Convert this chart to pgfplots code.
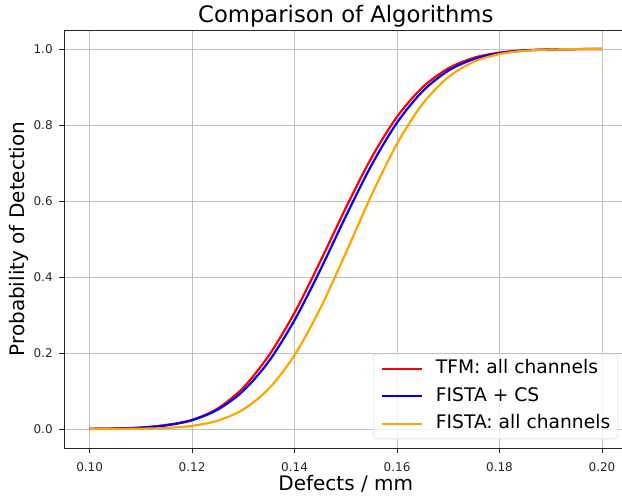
\documentclass[border=0pt]{standalone}
\usepackage{pgfplots}
\pgfplotsset{compat=1.18}
\usepackage{fontspec}
\setmainfont{DejaVu Sans}
\definecolor{mplorange}{RGB}{255,165,0}
\definecolor{tickgray}{RGB}{38,38,38}
\pgfplotsset{
  mylegimg/.style={legend image code/.code={\draw[#1, line width=2pt, draw opacity=1] (0pt,0pt) -- (40pt,0pt);}},
}
\begin{document}
\begin{tikzpicture}[x=1pt,y=1pt]
\path[use as bounding box] (-64,-48) rectangle (558,448);
\begin{axis}[
  at={(0,0)}, anchor=south west,
  scale only axis, width=563.6pt, height=418pt,
  xmin=0.095, xmax=0.205, ymin=-0.05, ymax=1.05,
  xtick={0.10,0.12,0.14,0.16,0.18,0.20},
  ytick={0,0.2,0.4,0.6,0.8,1.0},
  /pgf/number format/assume math mode=true,
  xticklabel style={/pgf/number format/fixed, /pgf/number format/fixed zerofill, /pgf/number format/precision=2,
    anchor=base, yshift=-19pt, inner sep=0pt},
  yticklabel style={/pgf/number format/fixed, /pgf/number format/fixed zerofill, /pgf/number format/precision=1,
    anchor=east, xshift=-3pt},
  ticklabel style={font=\fontsize{12}{14}\selectfont, text=tickgray},
  tick pos=left, tick align=outside, major tick length=4.8pt,
  tick style={line width=0.8pt, tickgray},
  axis line style={line width=0.8pt, tickgray},
  grid=major, grid style={line width=0.8pt, color=black!25},
  title={Comparison of Algorithms},
  title style={font=\fontsize{22.7}{26}\selectfont, at={(0.5,1)}, anchor=base, yshift=1pt, inner sep=0pt},
  xlabel={Defects / mm}, ylabel={Probability of Detection},
  xlabel style={font=\fontsize{20}{22}\selectfont, at={(0.5,0)}, anchor=base, yshift=-42pt, inner sep=0pt},
  ylabel style={font=\fontsize{20}{22}\selectfont, at={(0,0.5)}, rotate=0, anchor=base, yshift=39pt, inner sep=0pt},
  mylegimg,
  legend style={at={(0.9829,0.0215)}, anchor=south east, font=\fontsize{18.7}{22}\selectfont,
    draw=black!20, rounded corners=3pt, fill=white, fill opacity=0.8, text opacity=1, draw opacity=1,
    inner xsep=7.5pt, inner ysep=6pt, row sep=10pt,
    nodes={inner sep=0pt, text height=13.6pt, text depth=4pt, anchor=west},
    /tikz/every odd column/.append style={column sep=12.7pt}},
  legend cell align=left,
  every axis plot/.append style={line width=2.2pt, smooth},
]
\addplot[red] coordinates {
(0.100,0.0004) (0.105,0.0013) (0.110,0.0040) (0.115,0.0109) (0.120,0.0240)
(0.125,0.0540) (0.130,0.1090) (0.135,0.1938) (0.140,0.3061) (0.145,0.4404)
(0.150,0.5820) (0.155,0.7136) (0.160,0.8216) (0.165,0.8995) (0.170,0.9491)
(0.175,0.9769) (0.180,0.9906) (0.185,0.9966) (0.190,0.9989) (0.195,0.9997) (0.200,0.9999)};
\addlegendentry{TFM: all channels}
\addplot[blue] coordinates {
(0.100,0.0003) (0.105,0.0011) (0.110,0.0034) (0.115,0.0094) (0.120,0.0231)
(0.125,0.0509) (0.130,0.1005) (0.135,0.1784) (0.140,0.2864) (0.145,0.4180)
(0.150,0.5596) (0.155,0.6939) (0.160,0.8062) (0.165,0.8890) (0.170,0.9428)
(0.175,0.9736) (0.180,0.9891) (0.185,0.9960) (0.190,0.9987) (0.195,0.9996) (0.200,0.9999)};
\addlegendentry{FISTA + CS}
\addplot[mplorange] coordinates {
(0.100,0.0000) (0.105,0.0002) (0.110,0.0008) (0.115,0.0027) (0.120,0.0082)
(0.125,0.0219) (0.130,0.0515) (0.135,0.1064) (0.140,0.1944) (0.145,0.3167)
(0.150,0.4633) (0.155,0.6149) (0.160,0.7508) (0.165,0.8558) (0.170,0.9259)
(0.175,0.9664) (0.180,0.9866) (0.185,0.9953) (0.190,0.9986) (0.195,0.9996) (0.200,0.9999)};
\addlegendentry{FISTA: all channels}
\end{axis}
\end{tikzpicture}
\end{document}
